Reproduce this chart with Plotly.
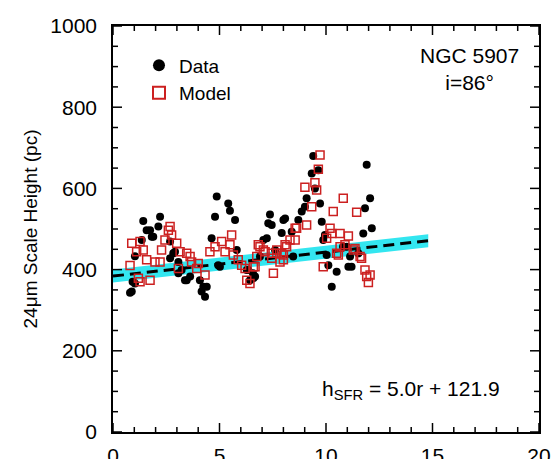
import numpy as np
import plotly.graph_objects as go

# Observed 24um scale heights (black filled circles)
data_r = [0.80, 0.88, 0.92, 1.03, 1.03, 1.35, 1.42, 1.58, 1.74, 1.82, 1.89, 2.13, 2.21,
          2.68, 2.68, 2.83, 2.91, 3.07, 3.07, 3.22, 3.38, 3.46, 3.62, 4.08, 4.16, 4.24,
          4.32, 4.40, 4.63, 4.79, 4.87, 4.94, 5.02, 5.41, 5.49, 5.73, 5.81, 6.28, 6.35,
          6.43, 6.57, 6.59, 6.67, 6.90, 7.06, 7.22, 7.29, 7.37, 7.45, 7.61, 7.92, 8.00,
          8.08, 8.39, 8.46, 8.70, 8.86, 9.01, 9.09, 9.33, 9.40, 9.48, 9.64, 9.72, 9.80,
          9.87, 9.95, 10.03, 10.11, 10.27, 10.50, 10.80, 10.97, 11.05, 11.13, 11.20,
          11.52, 11.75, 11.83, 11.91, 12.07, 12.15]
data_h = [343, 346, 370, 433, 366, 473, 520, 497, 497, 481, 481, 506, 530,
          469, 428, 440, 444, 419, 391, 399, 374, 374, 383, 374, 346, 358,
          333, 358, 477, 530, 580, 411, 407, 563, 545, 522, 448, 399, 399,
          374, 391, 379, 383, 432, 473, 477, 514, 536, 510, 448, 490, 522,
          526, 493, 432, 522, 543, 555, 576, 637, 680, 600, 645, 563, 518,
          473, 485, 436, 411, 358, 395, 456, 456, 407, 432, 407,
          440, 489, 551, 658, 576, 502]

# Model scale heights (red open squares)
model_r = [0.80, 0.88, 1.11, 1.19, 1.27, 1.27, 1.42, 1.58, 1.74, 1.97, 2.21, 2.28, 2.44,
           2.60, 2.68, 2.75, 2.99, 3.07, 3.15, 3.46, 3.62, 3.69, 3.93, 4.00, 4.32, 4.55,
           4.79, 5.10, 5.26, 5.49, 5.57, 5.65, 5.88, 6.04, 6.20, 6.28, 6.43, 6.59, 6.67,
           6.75, 6.82, 6.90, 7.06, 7.14, 7.45, 7.45, 7.53, 7.69, 7.69, 7.84, 7.92, 8.00,
           8.00, 8.08, 8.15, 8.31, 8.55, 8.55, 8.62, 9.01, 9.09, 9.33, 9.48, 9.56, 9.64,
           9.72, 9.87, 10.03, 10.19, 10.27, 10.34, 10.50, 10.58, 10.66, 10.66, 10.81,
           10.89, 11.05, 11.28, 11.36, 11.44, 11.60, 11.67, 11.83, 11.91, 11.99, 12.07]
model_h = [410, 465, 444, 379, 469, 370, 448, 424, 374, 419, 419, 448, 473,
           497, 506, 485, 465, 403, 444, 440, 432, 419, 403, 415, 387, 444,
           456, 469, 444, 461, 485, 436, 424, 411, 403, 374, 366, 407, 407,
           432, 461, 456, 448, 444, 440, 428, 391, 448, 440, 419, 440, 424,
           436, 461, 456, 473, 502, 473, 502, 603, 510, 555, 614, 596, 647,
           682, 407, 477, 502, 489, 543, 440, 436, 489, 456, 576,
           461, 483, 448, 452, 541, 432, 428, 399, 383, 368, 387]

# Linear fit to the scale heights and its uncertainty band
fit_slope = 5.9
fit_intercept = 384.0
fit_halfwidth = 16.0
fit_r = np.array([0.0, 14.8])
fit_h = fit_intercept + fit_slope * fit_r

# axis ranges and tick positions
x_range = [0, 20]
y_range = [0, 1000]
x_major = [0, 5, 10, 15, 20]
y_major = [0, 200, 400, 600, 800, 1000]
x_minor = [v for v in range(0, 21) if v % 5]
y_minor = [v for v in range(0, 1001, 50) if v % 200]

FONT = "Liberation Sans, Arial, Helvetica, sans-serif"

# plot-area size in pixels, used to express tick lengths in axis units
W, H = 560, 459
MARGIN = dict(l=113, r=21, t=26, b=27)
px_x = (x_range[1] - x_range[0]) / (W - MARGIN["l"] - MARGIN["r"])
px_y = (y_range[1] - y_range[0]) / (H - MARGIN["t"] - MARGIN["b"])

fig = go.Figure()

# uncertainty band
fig.add_trace(go.Scatter(
    x=np.concatenate([fit_r, fit_r[::-1]]),
    y=np.concatenate([fit_h + fit_halfwidth, (fit_h - fit_halfwidth)[::-1]]),
    mode="lines", fill="toself", fillcolor="#33e6f0", line=dict(width=0),
    hoverinfo="skip", showlegend=False))

fig.add_trace(go.Scatter(
    x=fit_r, y=fit_h, mode="lines",
    line=dict(color="black", width=3, dash="11px,6px"),
    showlegend=False))

fig.add_trace(go.Scatter(
    x=data_r, y=data_h, mode="markers", name="Data",
    marker=dict(symbol="circle", size=8, color="black")))

fig.add_trace(go.Scatter(
    x=model_r, y=model_h, mode="markers", name="Model",
    marker=dict(symbol="square-open", size=8, color="#cc2020",
                line=dict(width=1.5, color="#cc2020"))))

# inward tick marks on all four sides
tx, ty = [], []
for vals, length in ((x_major, 9), (x_minor, 5)):
    dy = length * px_y
    for v in vals:
        tx += [v, v, None, v, v, None]
        ty += [y_range[0], y_range[0] + dy, None, y_range[1], y_range[1] - dy, None]
for vals, length in ((y_major, 9), (y_minor, 5)):
    dx = length * px_x
    for v in vals:
        tx += [x_range[0], x_range[0] + dx, None, x_range[1], x_range[1] - dx, None]
        ty += [v, v, None, v, v, None]
fig.add_trace(go.Scatter(x=tx, y=ty, mode="lines", line=dict(color="black", width=1.5),
                         hoverinfo="skip", showlegend=False, cliponaxis=False))

axis_common = dict(
    showgrid=False, zeroline=False, showline=True, linecolor="black", linewidth=1.5,
    mirror=True, ticks="", automargin=False,
    tickfont=dict(family=FONT, size=21, color="black"),
)

fig.update_layout(
    template="none",
    width=W, height=H,
    margin=MARGIN,
    paper_bgcolor="white", plot_bgcolor="white",
    font=dict(family=FONT, color="black"),
    xaxis=dict(range=x_range, tickvals=x_major, ticklabelstandoff=4, **axis_common),
    yaxis=dict(range=y_range, tickvals=y_major, ticklabelstandoff=10,
               title=dict(text="24μm Scale Height (pc)",
                          font=dict(family=FONT, size=19, color="black"), standoff=8),
               **axis_common),
    legend=dict(x=0.061, y=0.95, xanchor="left", yanchor="top",
                bgcolor="rgba(0,0,0,0)", font=dict(family=FONT, size=19, color="black"),
                tracegroupgap=0, itemsizing="constant"),
)

fig.add_annotation(x=0.838, y=0.893, xref="paper", yref="paper",
                   xanchor="center", yanchor="middle",
                   text="NGC 5907<br>i=86°", showarrow=False, align="center",
                   font=dict(family=FONT, size=21, color="black"))
fig.add_annotation(x=0.70, y=0.103, xref="paper", yref="paper",
                   xanchor="center", yanchor="middle",
                   text="h<sub>SFR</sub> = 5.0r + 121.9", showarrow=False,
                   font=dict(family=FONT, size=21, color="black"))

fig.write_html("out.html")
